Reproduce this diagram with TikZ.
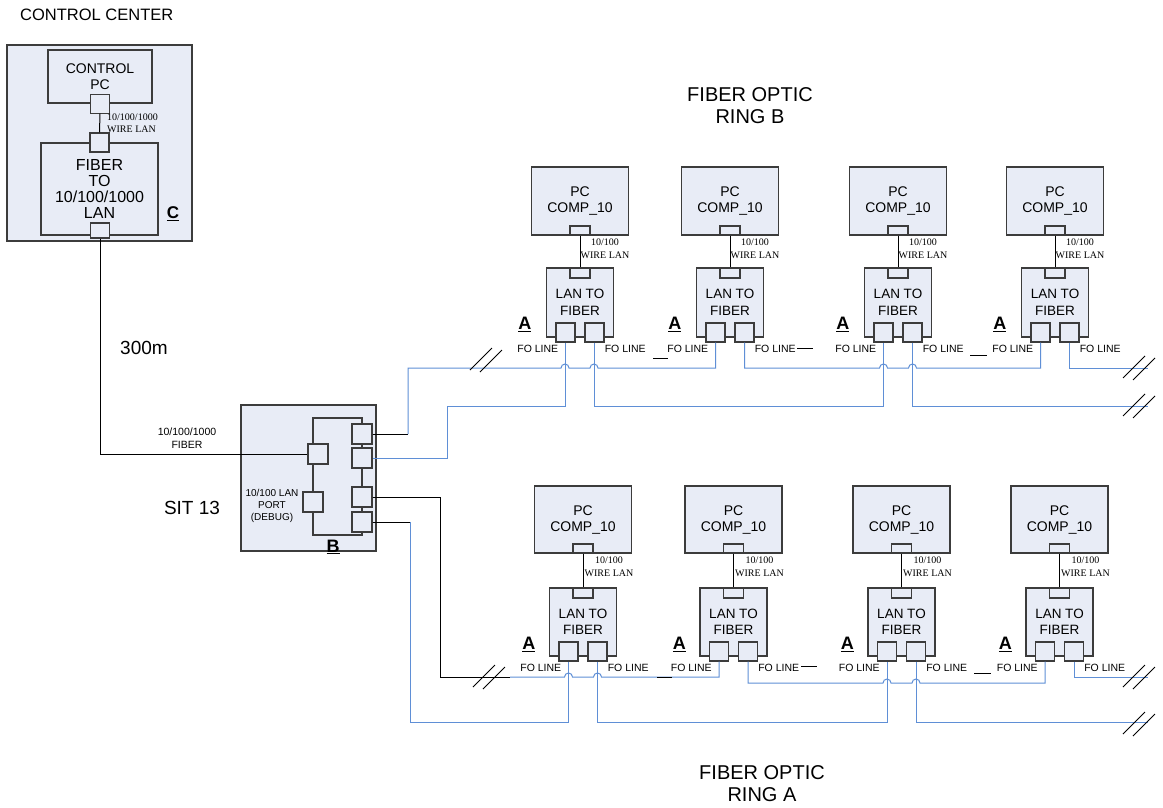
\documentclass[tikz,border=0pt]{standalone}
\usepackage{fontspec}
\setmainfont{Liberation Sans}
\newfontfamily\wirefont{Liberation Serif}
\usetikzlibrary{calc}
\definecolor{boxfill}{HTML}{E8ECF6}
\definecolor{boxline}{HTML}{3C3C3C}
\definecolor{foblue}{HTML}{5F8FD6}
\newcommand{\fsz}[2]{\fontsize{#1}{#2}\selectfont}
% break mark on a fibre line
\newcommand{\fobrk}[2]{%
  \draw[brk] (#1-12,#2+10) -- (#1+10,#2-12);
  \draw[brk] (#1-2,#2+12) -- (#1+20,#2-10);}
\tikzset{
  unitbox/.style={draw=boxline, fill=boxfill, line width=1.2pt, inner sep=0pt, align=center},
  portbox/.style={draw=boxline, fill=boxfill, line width=1.2pt, inner sep=0pt,
    minimum width=19pt, minimum height=19pt},
  fo/.style={draw=foblue, line width=1pt},
  cu/.style={draw=black, line width=1pt},
  brk/.style={draw=black, line width=0.9pt},
  folbl/.style={font=\fsz{10.5}{12}, inner sep=0pt},
  wirelbl/.style={font=\wirefont\fsz{10}{12.5}, align=center, inner sep=0pt},
  tag/.style={font=\bfseries\fsz{18}{20}, inner sep=0pt},
  hop/.style={start angle=180, end angle=0, radius=4pt}
}
\begin{document}
\begin{tikzpicture}[x=1pt, y=-1pt]
\fill[white] (0,0) rectangle (1163,807);
\useasboundingbox (0,0) rectangle (1163,807);

% Control center
\node[anchor=west, font=\fsz{16.5}{19}, inner sep=0pt] (cctitle) at (20,15) {CONTROL CENTER};
\node[unitbox, minimum width=185pt, minimum height=196pt] (cc) at (99.5,143) {};
\node[unitbox, minimum width=104pt, minimum height=53pt, font=\fsz{14}{16}] (cpc) at (100,76.5) {CONTROL\\PC};
\node[portbox] (cpcp) at (cpc.south) {};
\node[unitbox, minimum width=117pt, minimum height=92pt, font=\fsz{16}{16}] (fib) at (99.5,189) {FIBER\\TO\\10/100/1000\\LAN};
\node[portbox] (fibt) at (fib.north) {};
\node[portbox, minimum height=15pt] (fibb) at (100,230.5) {};
\node[wirelbl, align=left, anchor=west] (ccwire) at (107,123) {10/100/1000\\WIRE LAN};
\node[tag, font=\bfseries\fsz{17}{20}] (tagC) at (173,214) {\underline{C}};
\draw[cu] (cpcp.south) -- (fibt.north);

% SIT 13
\node[font=\fsz{19}{22}, inner sep=0pt] (sitname) at (192,508) {SIT 13};
\node[font=\fsz{19}{22}, inner sep=0pt] (dist) at (144,348) {300m};
\node[font=\fsz{10.5}{13}, align=center, inner sep=0pt] (sitfib) at (187,438.5) {10/100/1000\\FIBER};
\node[unitbox, minimum width=135pt, minimum height=146pt] (sit) at (308.5,478) {};
\draw[draw=boxline, line width=1.1pt] (313,418) rectangle (362,535);
\node[portbox, minimum size=20pt] (sitl) at (318,454) {};
\node[portbox, minimum size=20pt] (sitd) at (313,502) {};
\node[portbox, minimum size=20pt] (sit1) at (362,434) {};
\node[portbox, minimum size=20pt] (sit2) at (362,458) {};
\node[portbox, minimum size=20pt] (sit3) at (362,497) {};
\node[portbox, minimum size=20pt] (sit4) at (362,522) {};
\node[font=\fsz{10}{12}, align=center, inner sep=0pt] (debug) at (272,506) {10/100 LAN\\PORT\\(DEBUG)};
\node[tag] (tagB) at (333,547) {\underline{B}};
\draw[cu] (fibb.south) |- (sitl.west);

% Ring B units
\node[font=\fsz{20}{22}, align=center, inner sep=0pt] (ringB) at (750,106) {FIBER OPTIC\\RING B};
\foreach \i/\cx in {1/580,2/730,3/898,4/1055}{
  \node[unitbox, minimum width=97pt, minimum height=68pt, font=\fsz{14}{16}] (pcB\i) at (\cx,201) {PC\\COMP\_10};
  \node[portbox, minimum width=20pt, minimum height=9pt, anchor=south] (ppB\i) at (pcB\i.south) {};
  \node[unitbox, minimum width=67pt, minimum height=69pt, font=\fsz{13.5}{16.5}] (lanB\i) at (\cx,302.5) {LAN TO\\FIBER};
  \node[portbox, minimum width=20pt, minimum height=10pt, anchor=north] (lpB\i) at (lanB\i.north) {};
  \node[portbox, anchor=south] (pBa\i) at ($(lanB\i.south)+(-14.5,5)$) {};
  \node[portbox, anchor=south] (pBb\i) at ($(lanB\i.south)+(14.5,5)$) {};
  \draw[cu] (ppB\i.south) -- (lpB\i.north);
  \node[wirelbl] (wlB\i) at (\cx+25,248.5) {10/100\\WIRE LAN};
  \node[tag] (aB\i) at ($(lanB\i.south west)+(-21,-13)$) {\underline{A}};
  \node[folbl, anchor=east] (flB\i) at ($(pBa\i.south west)+(3,6)$) {FO LINE};
  \node[folbl, anchor=west] (frB\i) at ($(pBb\i.south east)+(0,6)$) {FO LINE};
}

% Ring A units
\node[font=\fsz{20}{22}, align=center, inner sep=0pt] (ringA) at (762,784) {FIBER OPTIC\\RING A};
\foreach \i/\cx in {1/583,2/733.5,3/901.5,4/1059.5}{
  \node[unitbox, minimum width=97pt, minimum height=67pt, font=\fsz{14}{16}] (pcA\i) at (\cx,519.5) {PC\\COMP\_10};
  \node[portbox, minimum width=20pt, minimum height=9pt, anchor=south] (ppA\i) at (pcA\i.south) {};
  \node[unitbox, minimum width=67pt, minimum height=68pt, font=\fsz{13.5}{16.5}] (lanA\i) at (\cx,622) {LAN TO\\FIBER};
  \node[portbox, minimum width=20pt, minimum height=10pt, anchor=north] (lpA\i) at (lanA\i.north) {};
  \node[portbox, anchor=south] (pAa\i) at ($(lanA\i.south)+(-14.5,5)$) {};
  \node[portbox, anchor=south] (pAb\i) at ($(lanA\i.south)+(14.5,5)$) {};
  \draw[cu] (ppA\i.south) -- (lpA\i.north);
  \node[wirelbl] (wlA\i) at (\cx+26,566.5) {10/100\\WIRE LAN};
  \node[tag] (aA\i) at ($(lanA\i.south west)+(-20,-12)$) {\underline{A}};
  \node[folbl, anchor=east] (flA\i) at ($(pAa\i.south west)+(3,6)$) {FO LINE};
  \node[folbl, anchor=west] (frA\i) at ($(pAb\i.south east)+(0,6)$) {FO LINE};
}

% Ring B fibre lines
\coordinate (kB1) at (408,434);
\coordinate (kB2) at (447,406);
\coordinate (eB1) at (1148,368);
\coordinate (eB2) at (1148,406);
\draw[cu] (sit1.east) -- (kB1);
\draw[fo] (kB1) -- (408,368) -- (561,368) arc[hop] -- (590,368) arc[hop] -| (pBa2.south);
\draw[fo] (pBb2.south) |- (879.5,368) arc[hop] -- (908.5,368) arc[hop] -| (pBa4.south);
\draw[fo] (pBb4.south) |- (eB1);
\draw[fo] (sit2.east) -| (kB2) -| (pBa1.south);
\draw[fo] (pBb1.south) -- ++(0,64) -| (pBa3.south);
\draw[fo] (pBb3.south) |- (eB2);
\fobrk{482}{360}
\fobrk{1135}{368}
\fobrk{1135}{406}
\draw[cu] (653,358) -- (668,358);
\draw[cu] (797,348) -- (813,348);
\draw[cu] (970,355) -- (987,355);

% Ring A fibre lines
\coordinate (kA1) at (440,677);
\coordinate (kA2) at (510,677);
\coordinate (kA3) at (410,522);
\coordinate (eA1) at (1148,677);
\coordinate (eA2) at (1148,722);
\draw[cu] (sit3.east) -| (kA1) -- (kA2);
\draw[fo] (kA2) -- (564.5,677) arc[hop] -- (593.5,677) arc[hop] -| (pAa2.south);
\draw[fo] (pAb2.south) |- (883,683) arc[hop] -- (912,683) arc[hop] -| (pAa4.south);
\draw[fo] (pAb4.south) |- (eA1);
\draw[cu] (sit4.east) -- (kA3);
\draw[fo] (kA3) -- (410,722) -| (pAa1.south);
\draw[fo] (pAb1.south) -- ++(0,61) -| (pAa3.south);
\draw[fo] (pAb3.south) |- (eA2);
\fobrk{485}{677}
\fobrk{1135}{677}
\fobrk{1135}{724}
\draw[cu] (657,677) -- (672,677);
\draw[cu] (801,666) -- (817,666);
\draw[cu] (974,673) -- (991,673);
\end{tikzpicture}
\end{document}
